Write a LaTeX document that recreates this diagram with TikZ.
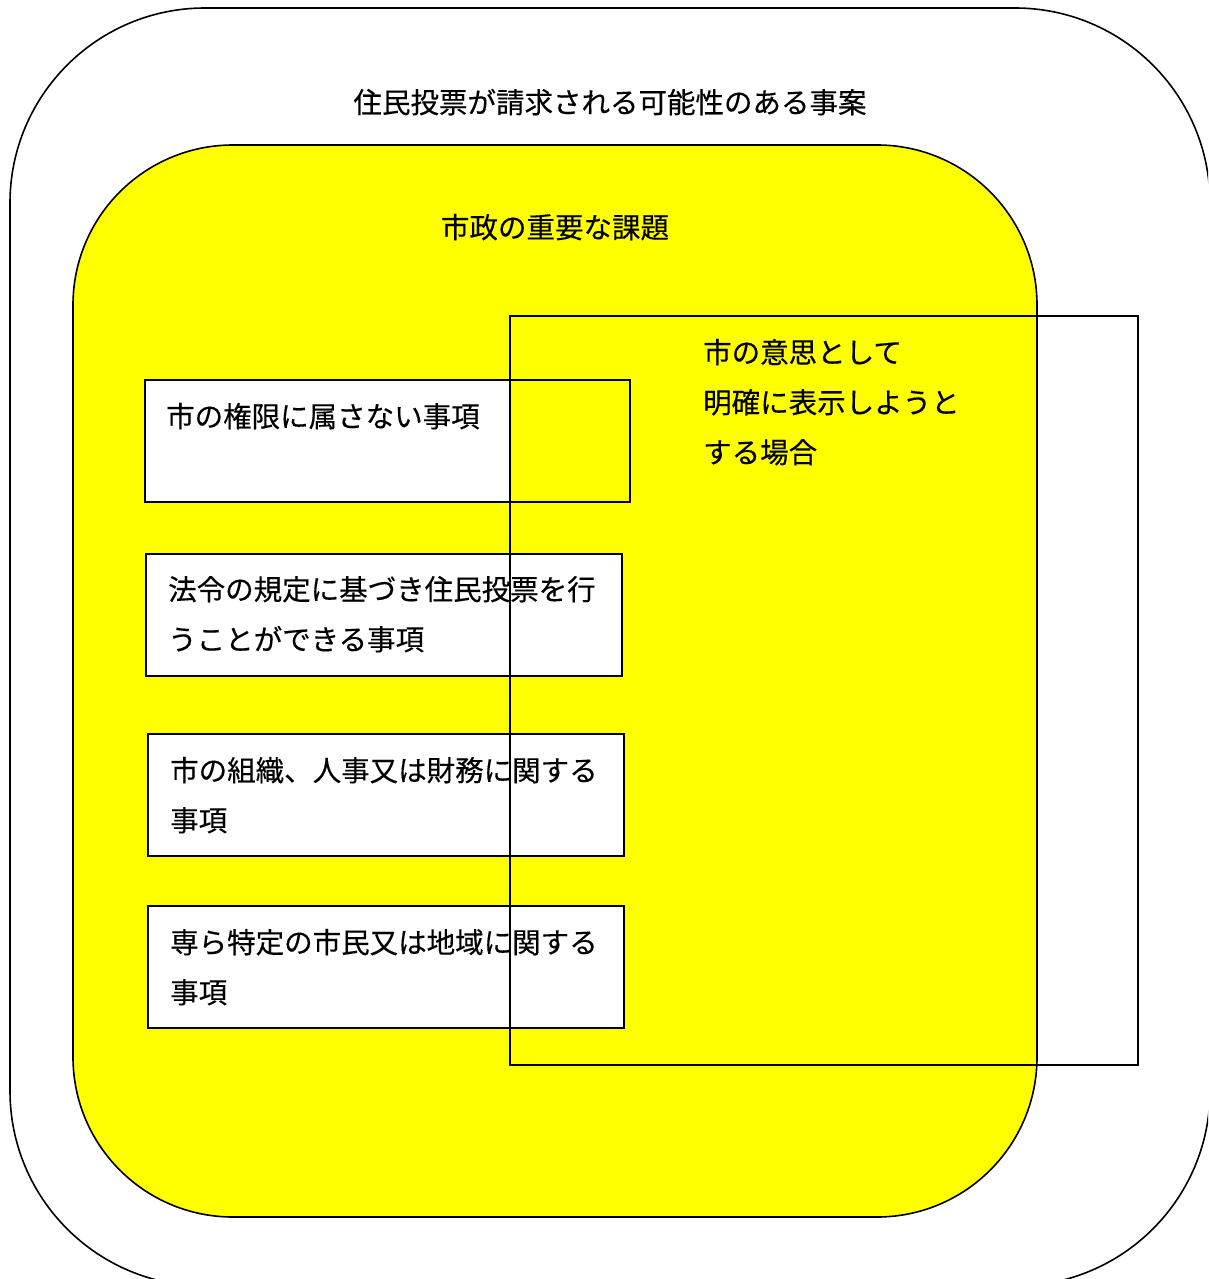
\documentclass[tikz,border=0pt]{standalone}
\usepackage{fontspec}
\newfontfamily\jpfont[FakeBold=0.3]{Noto Sans CJK JP}
\definecolor{hiyellow}{HTML}{FFFF00}
\tikzset{
  txt/.style={font=\jpfont\fontsize{28.5}{50}\selectfont, inner sep=0pt, anchor=base west, align=left},
  ctxt/.style={font=\jpfont\fontsize{28.5}{50}\selectfont, inner sep=0pt, anchor=base},
  frame/.style={draw=black, line width=1.6pt},
  itembox/.style={draw=black, line width=2pt}
}
\begin{document}
\begin{tikzpicture}[x=1pt,y=-1pt]
\useasboundingbox (0,0) rectangle (1208,1279);
\clip (0,0) rectangle (1208,1279);
% outer rounded frame
\draw[frame, fill=white, rounded corners=195pt] (10,8) rectangle (1210,1286);
% yellow rounded region
\draw[frame, fill=hiyellow, rounded corners=160pt] (73,145) rectangle (1037,1217);
% item boxes
\fill[white] (145,380) rectangle (510,502);
\draw[itembox] (145,380) rectangle (630,502);
\draw[itembox, fill=white] (146,554) rectangle (622,676);
\draw[itembox, fill=white] (148,734) rectangle (624,856);
\draw[itembox, fill=white] (148,906) rectangle (624,1028);
% texts (base anchor of multi-line nodes = last line)
\node[ctxt] (title) at (610,113) {住民投票が請求される可能性のある事案};
\node[ctxt] (issue) at (555,238) {市政の重要な課題};
\node[txt] (will) at (703,463) {市の意思として\\明確に表示しようと\\する場合};
\node[txt] (b1) at (166,427) {市の権限に属さない事項};
\node[txt] (b2) at (168,650) {法令の規定に基づき住民投票を行\\うことができる事項};
\node[txt] (b3) at (170,831) {市の組織、人事又は財務に関する\\事項};
\node[txt] (b4) at (170,1003) {専ら特定の市民又は地域に関する\\事項};
% overlapping rectangle
\draw[itembox] (510,316) rectangle (1138,1065);
\end{tikzpicture}
\end{document}
